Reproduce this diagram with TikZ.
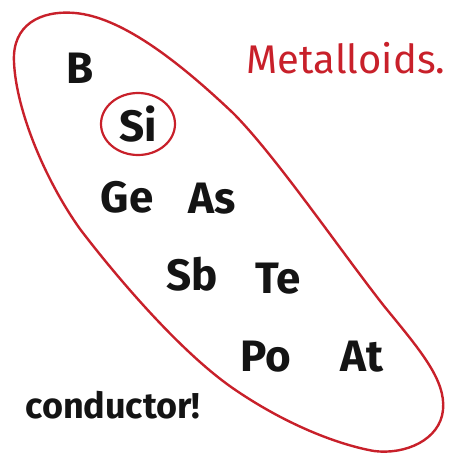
\documentclass[tikz,border=0pt]{standalone}
\usepackage{fontspec}
\setmainfont{Fira Sans}
\definecolor{pen}{RGB}{200,32,42}
\definecolor{ink}{RGB}{20,20,20}
\begin{document}
\begin{tikzpicture}[x=1pt,y=-1pt,
  elem/.style={text=ink,font=\fontsize{44}{44}\selectfont\bfseries,inner sep=0pt},
  redline/.style={draw=pen,line width=2.4pt,line cap=round,line join=round}]
\useasboundingbox (0,0) rectangle (468,458);
% big loop
\draw[redline] (14,62) .. controls (12,25) and (40,10) .. (75,13)
  .. controls (120,17) and (175,58) .. (233,113)
  .. controls (275,155) and (340,250) .. (384,306)
  .. controls (420,350) and (446,380) .. (443,410)
  .. controls (440,440) and (405,455) .. (374,451)
  .. controls (340,445) and (288,426) .. (234,389)
  .. controls (180,352) and (115,275) .. (80,229)
  .. controls (45,180) and (16,110) .. (14,62) -- cycle;
% elements
\node[elem] (B) at (80,68) {B};
\node[elem] (Si) at (138,124) {Si};
\draw[redline,line width=2.2pt] (Si) ellipse [x radius=37,y radius=31];
\node[elem] (Ge) at (127,197) {Ge};
\node[elem] (As) at (212,199) {As};
\node[elem] (Sb) at (192,274) {Sb};
\node[elem] (Te) at (278,279) {Te};
\node[elem] (Po) at (266,357) {Po};
\node[elem] (At) at (362,357) {At};
\node[text=ink,font=\fontsize{36}{36}\selectfont\bfseries,inner sep=0pt] (cond) at (113,405) {conductor!};
\node[text=pen,font=\fontsize{40}{40}\selectfont,inner sep=0pt] (title) at (346,58) {Metalloids.};
\end{tikzpicture}
\end{document}
